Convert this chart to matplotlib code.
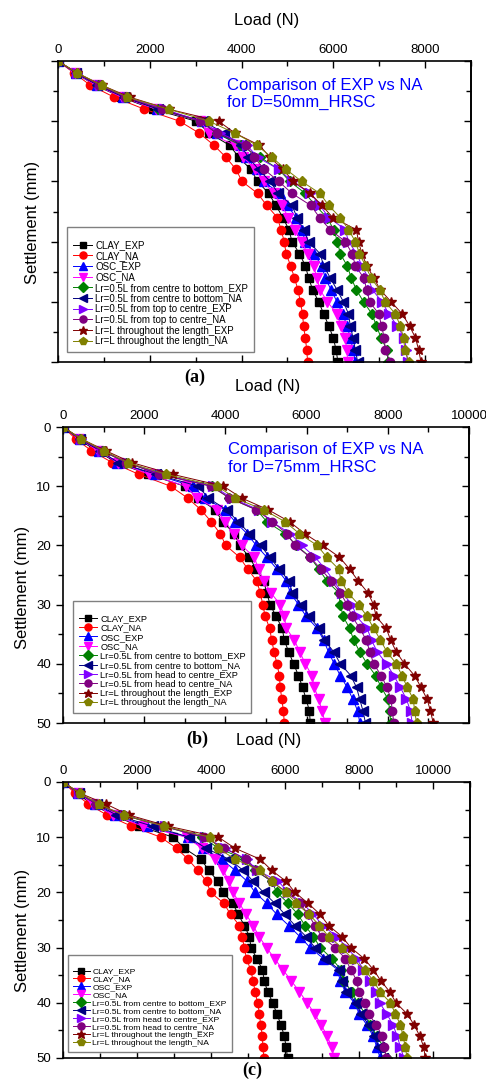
import matplotlib
matplotlib.use('Agg')
import matplotlib.pyplot as plt
from matplotlib.ticker import MultipleLocator

plt.rcParams['font.family'] = ['Liberation Sans', 'DejaVu Sans']

settle = [0, 2, 4, 6, 8, 10, 12, 14, 16, 18, 20, 22, 24, 26, 28, 30, 32, 34, 36, 38, 40, 42, 44, 46, 48, 50]

# (a) D=50mm
a_clay_exp = [0, 370, 810, 1370, 2080, 3010, 3300, 3740, 3940, 4200, 4350, 4590, 4750, 4900, 5030, 5100, 5260, 5390, 5460, 5550, 5680, 5790, 5900, 6000, 6060, 6100]
a_clay_na = [0, 350, 700, 1220, 1880, 2650, 3080, 3400, 3660, 3880, 4010, 4350, 4550, 4780, 4860, 4930, 4970, 5070, 5150, 5230, 5280, 5330, 5350, 5390, 5420, 5440]
a_osc_exp = [0, 390, 840, 1410, 2150, 3130, 3460, 3970, 4100, 4330, 4480, 4830, 5000, 5190, 5310, 5390, 5570, 5750, 5820, 5950, 6080, 6200, 6300, 6370, 6430, 6480]
a_osc_na = [0, 370, 830, 1390, 2140, 3100, 3300, 3850, 4040, 4300, 4480, 4700, 4880, 5020, 5160, 5310, 5440, 5570, 5640, 5710, 5870, 6080, 6170, 6250, 6300, 6310]
a_cb_exp = [0, 410, 880, 1460, 2190, 3100, 3460, 3980, 4410, 4810, 5050, 5390, 5610, 5860, 6010, 6090, 6150, 6300, 6390, 6500, 6660, 6840, 6940, 7040, 7170, 7190]
a_cb_na = [0, 390, 860, 1430, 2190, 3170, 3620, 3980, 4150, 4370, 4620, 4800, 5100, 5210, 5350, 5460, 5710, 5790, 5930, 6080, 6220, 6330, 6370, 6430, 6480, 6530]
a_tc_exp = [0, 410, 920, 1500, 2300, 3130, 3530, 4120, 4350, 4810, 5100, 5500, 5710, 5900, 6260, 6330, 6510, 6620, 6760, 6850, 7060, 7210, 7390, 7550, 7590, 7620]
a_tc_na = [0, 410, 900, 1460, 2260, 3100, 3460, 4090, 4280, 4490, 4810, 5100, 5510, 5700, 5930, 6260, 6410, 6480, 6660, 6730, 6790, 6990, 7050, 7110, 7130, 7240]
a_ll_exp = [0, 420, 950, 1560, 2410, 3500, 3860, 4390, 4620, 4900, 5130, 5500, 5750, 5990, 6500, 6550, 6620, 6730, 6880, 7020, 7260, 7500, 7660, 7790, 7860, 7910]
a_ll_na = [0, 420, 950, 1510, 2410, 3290, 3860, 4330, 4660, 4970, 5310, 5710, 5900, 6150, 6330, 6480, 6570, 6700, 6820, 7010, 7130, 7350, 7460, 7530, 7560, 7640]

# (b) D=75mm
b_clay_exp = [0, 370, 820, 1320, 2100, 3000, 3320, 3750, 3930, 4220, 4350, 4590, 4760, 4940, 5020, 5100, 5250, 5400, 5450, 5560, 5680, 5800, 5900, 5990, 6070, 6090]
b_clay_na = [0, 310, 700, 1210, 1870, 2650, 3070, 3400, 3650, 3870, 4010, 4350, 4550, 4770, 4860, 4920, 4980, 5090, 5140, 5200, 5270, 5330, 5350, 5390, 5430, 5450]
b_osc_exp = [0, 410, 890, 1330, 2260, 3190, 3500, 3990, 4240, 4530, 4760, 5020, 5270, 5500, 5600, 5800, 5990, 6260, 6420, 6540, 6680, 6830, 7000, 7140, 7260, 7310]
b_osc_na = [0, 400, 860, 1360, 2120, 3020, 3310, 3800, 3990, 4220, 4400, 4710, 4820, 4950, 5120, 5350, 5450, 5500, 5700, 5830, 5970, 6130, 6190, 6300, 6380, 6460]
b_cb_exp = [0, 430, 950, 1560, 2390, 3660, 4100, 4770, 5020, 5470, 5750, 6090, 6300, 6500, 6790, 6830, 6900, 7060, 7160, 7310, 7490, 7700, 7840, 8010, 8050, 8070]
b_cb_na = [0, 410, 910, 1360, 2300, 3330, 3580, 4030, 4320, 4590, 4870, 5090, 5330, 5560, 5650, 5860, 6070, 6300, 6440, 6670, 6830, 7090, 7230, 7310, 7390, 7450]
b_hc_exp = [0, 440, 970, 1590, 2430, 3700, 4160, 4820, 5140, 5600, 5880, 6210, 6460, 6670, 6870, 7120, 7230, 7490, 7600, 7740, 7970, 8150, 8310, 8460, 8560, 8600]
b_hc_na = [0, 430, 950, 1560, 2370, 3650, 4100, 4760, 5160, 5510, 5720, 6090, 6350, 6610, 6830, 7000, 7120, 7310, 7470, 7560, 7650, 7840, 7980, 8080, 8110, 8150]
b_ll_exp = [0, 450, 1050, 1690, 2700, 3950, 4400, 5060, 5580, 5950, 6400, 6810, 7060, 7270, 7510, 7650, 7710, 7960, 8070, 8210, 8410, 8660, 8820, 8970, 9050, 9120]
b_ll_na = [0, 450, 1010, 1590, 2540, 3800, 4240, 4950, 5470, 5820, 6260, 6500, 6790, 6850, 7020, 7280, 7490, 7650, 7820, 7980, 8210, 8350, 8480, 8630, 8660, 8710]

# (c)
c_clay_exp = [0, 380, 770, 1350, 2060, 2980, 3280, 3730, 3940, 4190, 4330, 4590, 4740, 4900, 5040, 5080, 5240, 5390, 5440, 5530, 5670, 5780, 5890, 5980, 6030, 6070]
c_clay_na = [0, 320, 680, 1190, 1850, 2640, 3070, 3380, 3640, 3880, 3990, 4350, 4530, 4770, 4840, 4900, 4960, 5070, 5140, 5190, 5260, 5310, 5340, 5390, 5400, 5430]
c_osc_exp = [0, 410, 860, 1400, 2260, 3380, 3790, 4290, 4650, 4980, 5190, 5510, 5780, 6100, 6400, 6680, 7040, 7420, 7490, 7630, 7870, 8010, 8210, 8380, 8480, 8570]
c_osc_na = [0, 410, 810, 1350, 2150, 3340, 3750, 4110, 4330, 4490, 4600, 4770, 4950, 5140, 5300, 5500, 5720, 5940, 6170, 6390, 6600, 6800, 6980, 7140, 7260, 7330]
c_cb_exp = [0, 430, 900, 1620, 2710, 3770, 4200, 4920, 5190, 5640, 5780, 6090, 6350, 6540, 6770, 6950, 7270, 7510, 7580, 7810, 7960, 8170, 8300, 8480, 8660, 8750]
c_cb_na = [0, 420, 920, 1440, 2420, 3410, 3860, 4490, 4870, 5140, 5420, 5730, 6000, 6270, 6570, 6810, 7090, 7470, 7540, 7650, 7920, 8050, 8260, 8410, 8530, 8650]
c_hc_exp = [0, 430, 920, 1670, 2750, 3840, 4380, 4960, 5250, 5820, 6090, 6480, 6770, 7020, 7400, 7670, 7940, 8120, 8300, 8450, 8560, 8750, 8920, 9030, 9120, 9210]
c_hc_na = [0, 430, 900, 1640, 2710, 3810, 4360, 4950, 5220, 5640, 6050, 6410, 6630, 6810, 6990, 7360, 7630, 7780, 7940, 7990, 8170, 8260, 8470, 8620, 8680, 8740]
c_ll_exp = [0, 450, 1160, 1790, 2840, 4200, 4650, 5330, 5640, 6030, 6270, 6630, 6950, 7180, 7540, 7780, 8140, 8390, 8590, 8830, 9000, 9300, 9490, 9640, 9750, 9790]
c_ll_na = [0, 450, 980, 1640, 2740, 3970, 4200, 4650, 5330, 5640, 6030, 6300, 6660, 6930, 7180, 7540, 7810, 8150, 8390, 8570, 8850, 8980, 9120, 9190, 9250, 9300]

labels_a = ['CLAY_EXP', 'CLAY_NA', 'OSC_EXP', 'OSC_NA',
            'Lr=0.5L from centre to bottom_EXP', 'Lr=0.5L from centre to bottom_NA',
            'Lr=0.5L from top to centre_EXP', 'Lr=0.5L from top to centre_NA',
            'Lr=L throughout the length_EXP', 'Lr=L throughout the length_NA']
labels_bc = ['CLAY_EXP', 'CLAY_NA', 'OSC_EXP', 'OSC_NA',
             'Lr=0.5L from centre to bottom_EXP', 'Lr=0.5L from centre to bottom_NA',
             'Lr=0.5L from head to centre_EXP', 'Lr=0.5L from head to centre_NA',
             'Lr=L throughout the length_EXP', 'Lr=L throughout the length_NA']

colors = ['#000000', '#ff0000', '#0000ff', '#ff00ff', '#008000', '#000080',
          '#8000ff', '#800080', '#800000', '#808000']
markers = ['s', 'o', '^', 'v', 'D', '<', '>', 'o', '*', 'p']
msizes = [5.5, 6, 6.5, 6.5, 5.5, 6.5, 6.5, 6, 7.5, 6.5]

W, H = 486, 1079


def fx(x):
    return x / W


def fy(y):
    return 1 - y / H


def panel(box, series, labels, xmax, leg_xy, leg_fs, leg_sp, ylab=True):
    l, t, r, b = box
    ax = fig.add_axes([fx(l), fy(b), (r - l) / W, (b - t) / H])
    for vals, lab, c, m, ms in zip(series, labels, colors, markers, msizes):
        ax.plot(vals, settle, color=c, marker=m, ms=ms, mec=c, lw=0.7, label=lab)
    ax.set_xlim(0, xmax)
    ax.set_ylim(50, 0)
    ax.xaxis.set_major_locator(MultipleLocator(2000))
    ax.xaxis.set_minor_locator(MultipleLocator(1000))
    ax.yaxis.set_major_locator(MultipleLocator(10))
    ax.yaxis.set_minor_locator(MultipleLocator(5))
    ax.tick_params(axis='x', which='both', direction='in', top=True, bottom=True,
                   labeltop=True, labelbottom=False, labelsize=9.5, width=1)
    ax.tick_params(axis='y', which='both', direction='out', left=True, right=False,
                   labelleft=ylab, labelsize=9.5, width=1)
    ax.tick_params(which='major', length=5)
    ax.tick_params(which='minor', length=3.5)
    sec = ax.secondary_yaxis('right')
    sec.yaxis.set_major_locator(MultipleLocator(10))
    sec.yaxis.set_minor_locator(MultipleLocator(5))
    sec.tick_params(which='both', direction='in', labelright=False, width=1)
    sec.tick_params(which='major', length=5)
    sec.tick_params(which='minor', length=3.5)
    for s in list(ax.spines.values()) + [sec.spines['right']]:
        s.set_linewidth(1.2)
    leg = ax.legend(loc='lower left', bbox_to_anchor=leg_xy, fontsize=leg_fs,
                    frameon=True, fancybox=False, edgecolor='#808080', framealpha=1,
                    borderaxespad=0, borderpad=0.6, labelspacing=leg_sp,
                    handlelength=2.0, handletextpad=0.3, title=' ',
                    title_fontsize=leg_fs * 0.8, markerscale=0.85)
    leg.get_frame().set_linewidth(1.0)
    # x label on top
    fig.text(fx((l + r) / 2 + 2), fy(t - 41), 'Load (N)', ha='center', va='center', fontsize=12)
    return ax


fig = plt.figure(figsize=(W / 100, H / 100), dpi=100)

series_a = [a_clay_exp, a_clay_na, a_osc_exp, a_osc_na, a_cb_exp, a_cb_na, a_tc_exp, a_tc_na, a_ll_exp, a_ll_na]
series_b = [b_clay_exp, b_clay_na, b_osc_exp, b_osc_na, b_cb_exp, b_cb_na, b_hc_exp, b_hc_na, b_ll_exp, b_ll_na]
series_c = [c_clay_exp, c_clay_na, c_osc_exp, c_osc_na, c_cb_exp, c_cb_na, c_hc_exp, c_hc_na, c_ll_exp, c_ll_na]

ax1 = panel((58, 61, 471, 362), series_a, labels_a, 9000, (0.022, 0.033), 7.0, 0.07, ylab=False)
ax2 = panel((63, 427, 469, 723), series_b, labels_bc, 10000, (0.025, 0.034), 6.7, 0.04)
ax3 = panel((63, 782, 470, 1058), series_c, labels_bc, 11000, (0.012, 0.022), 6.1, 0.0)

ax1.text(0.409, 0.945, 'Comparison of EXP vs NA\nfor D=50mm_HRSC', transform=ax1.transAxes,
         color='#0000ff', fontsize=12, ha='left', va='top')
ax2.text(0.406, 0.948, 'Comparison of EXP vs NA\nfor D=75mm_HRSC', transform=ax2.transAxes,
         color='#0000ff', fontsize=12, ha='left', va='top')

for xp, yp in [(33, 222), (22, 587), (22, 930)]:
    fig.text(fx(xp), fy(yp), 'Settlement (mm)', rotation=90, ha='center', va='center', fontsize=12)

for lab, xp, yp in [('(a)', 195, 377), ('(b)', 197, 739), ('(c)', 252, 1070)]:
    fig.text(fx(xp), fy(yp), lab, ha='center', va='center', fontsize=13,
             fontweight='bold', family=['Liberation Serif', 'DejaVu Serif'])

fig.savefig('out.png', dpi=100)
